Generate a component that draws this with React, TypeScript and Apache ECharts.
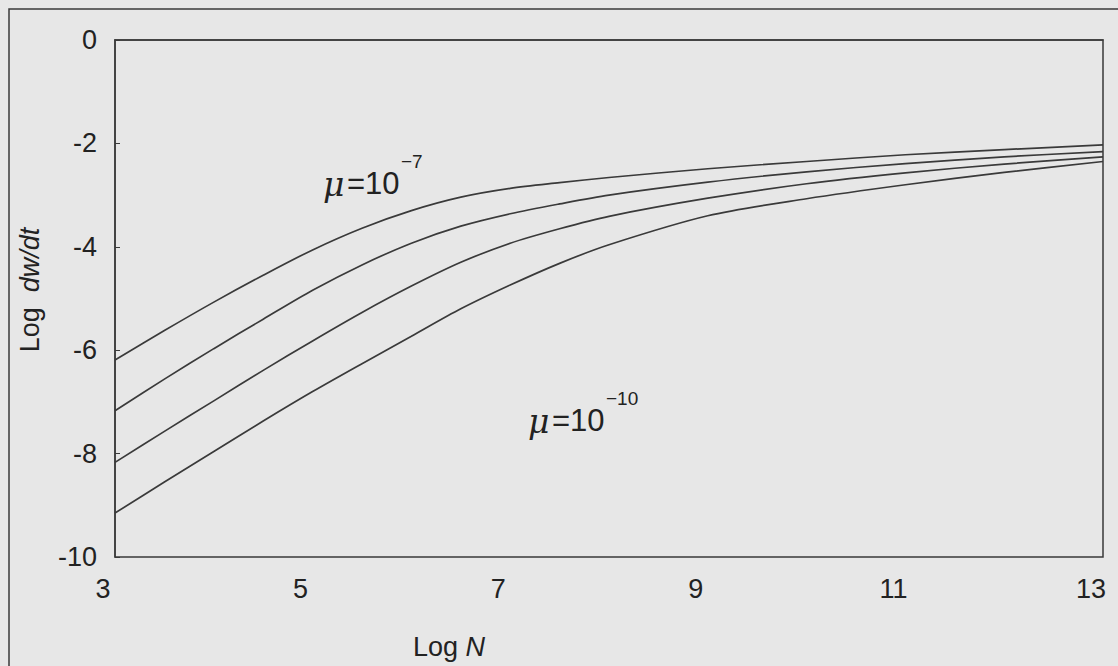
import React, { useEffect, useRef } from "react";
import * as echarts from "echarts";

const logN = [3, 3.5, 4, 4.5, 5, 5.5, 6, 6.5, 7, 7.5, 8, 9, 10, 11, 12, 13];
const mu7 = [-6.19, -5.62, -5.07, -4.55, -4.06, -3.64, -3.3, -3.04, -2.87, -2.76, -2.66, -2.49, -2.35, -2.22, -2.12, -2.03];
const mu8 = [-7.17, -6.56, -5.97, -5.4, -4.84, -4.35, -3.93, -3.6, -3.36, -3.17, -3.0, -2.75, -2.55, -2.39, -2.26, -2.16];
const mu9 = [-8.17, -7.57, -6.98, -6.39, -5.82, -5.27, -4.76, -4.3, -3.93, -3.65, -3.41, -3.06, -2.78, -2.57, -2.4, -2.26];
const mu10 = [-9.15, -8.55, -7.96, -7.37, -6.8, -6.26, -5.73, -5.2, -4.74, -4.32, -3.96, -3.4, -3.07, -2.8, -2.56, -2.35];
const seriesNames = ["μ=10^-7", "μ=10^-8", "μ=10^-9", "μ=10^-10"];

const LINE = "#3a3a3a";
const FONT = "Liberation Sans, Arial, sans-serif";

export default function App() {
  const ref = useRef<HTMLDivElement>(null);
  useEffect(() => {
    if (!ref.current) return;
    const chart = echarts.init(ref.current, undefined, { renderer: "svg" });
    const all = [mu7, mu8, mu9, mu10];
    chart.setOption({
      animation: false,
      backgroundColor: "#e7e7e7",
      grid: {
        left: 115,
        top: 40,
        right: 15,
        bottom: 109,
        show: true,
        borderColor: LINE,
        borderWidth: 1.5,
        backgroundColor: "transparent",
      },
      xAxis: {
        type: "value",
        min: 3,
        max: 13,
        interval: 2,
        axisLine: { show: true, lineStyle: { color: LINE, width: 1.5 } },
        axisTick: { show: false },
        splitLine: { show: false },
        axisLabel: {
          color: "#222",
          fontSize: 27,
          fontFamily: FONT,
          margin: 18,
          padding: [0, 24, 0, 0],
        },
      },
      yAxis: {
        type: "value",
        min: -10,
        max: 0,
        interval: 2,
        axisLine: { show: true, lineStyle: { color: LINE, width: 1.5 } },
        axisTick: { show: true, inside: true, length: 5, lineStyle: { color: LINE } },
        splitLine: { show: false },
        axisLabel: {
          color: "#222",
          fontSize: 27,
          fontFamily: FONT,
          margin: 18,
        },
      },
      series: all.map((d, i) => ({
        name: seriesNames[i],
        type: "line",
        showSymbol: false,
        smooth: 0.3,
        lineStyle: { color: LINE, width: 1.7 },
        data: logN.map((x, j) => [x, d[j]]),
      })),
      graphic: [
        {
          type: "rect",
          shape: { x: 9, y: 9, width: 1300, height: 800 },
          style: { fill: "none", stroke: LINE, lineWidth: 1.5 },
          silent: true,
        },
        {
          type: "text",
          x: 413,
          y: 647,
          style: {
            text: "Log {i|N}",
            fill: "#222",
            font: `27px ${FONT}`,
            verticalAlign: "middle",
            rich: { i: { fontStyle: "italic", fontSize: 27, fontFamily: FONT, fill: "#222" } },
          },
        },
        {
          type: "text",
          x: 30,
          y: 290,
          rotation: Math.PI / 2,
          style: {
            text: "Log  {i|dw/dt}",
            fill: "#222",
            font: `27px ${FONT}`,
            align: "center",
            verticalAlign: "middle",
            rich: { i: { fontStyle: "italic", fontSize: 27, fontFamily: FONT, fill: "#222" } },
          },
        },
        // annotation mu = 10^-7
        {
          type: "text",
          x: 323,
          y: 184,
          style: { text: "μ", fill: "#222", font: `italic 33px "DejaVu Serif", serif`, verticalAlign: "middle" },
        },
        {
          type: "text",
          x: 347,
          y: 183,
          style: { text: "=10", fill: "#222", font: `31px ${FONT}`, verticalAlign: "middle" },
        },
        {
          type: "text",
          x: 401,
          y: 161,
          style: { text: "−7", fill: "#222", font: `19px ${FONT}`, verticalAlign: "middle" },
        },
        // annotation mu = 10^-10
        {
          type: "text",
          x: 528,
          y: 421,
          style: { text: "μ", fill: "#222", font: `italic 33px "DejaVu Serif", serif`, verticalAlign: "middle" },
        },
        {
          type: "text",
          x: 552,
          y: 420,
          style: { text: "=10", fill: "#222", font: `31px ${FONT}`, verticalAlign: "middle" },
        },
        {
          type: "text",
          x: 606,
          y: 398,
          style: { text: "−10", fill: "#222", font: `19px ${FONT}`, verticalAlign: "middle" },
        },
      ],
    });
    return () => chart.dispose();
  }, []);
  return (
    <div
      ref={ref}
      style={{ position: "absolute", left: 0, top: 0, width: 1118, height: 666 }}
    />
  );
}
